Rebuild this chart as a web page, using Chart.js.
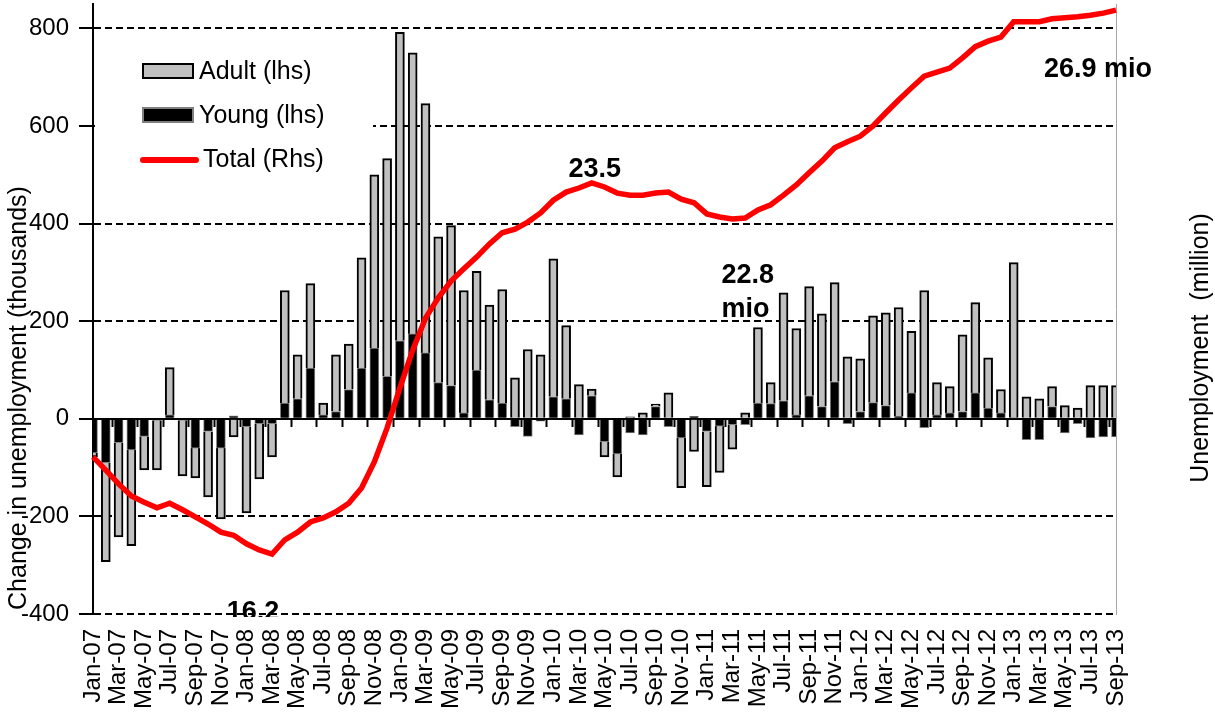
<!DOCTYPE html>
<html>
<head>
<meta charset="utf-8">
<title>Change in unemployment</title>
<script src="https://cdn.jsdelivr.net/npm/chart.js@4.4.1/dist/chart.umd.min.js"></script>
<style>
  html, body { margin: 0; padding: 0; background: #fff; }
  #wrap { width: 1215px; height: 718px; }
</style>
</head>
<body>
<div id="wrap"><canvas id="unempChart" width="1215" height="718"></canvas></div>
<script>
// Categories (monthly)
const months = [
  'Jan-07','Feb-07','Mar-07','Apr-07','May-07','Jun-07','Jul-07','Aug-07','Sep-07','Oct-07','Nov-07','Dec-07',
  'Jan-08','Feb-08','Mar-08','Apr-08','May-08','Jun-08','Jul-08','Aug-08','Sep-08','Oct-08','Nov-08','Dec-08',
  'Jan-09','Feb-09','Mar-09','Apr-09','May-09','Jun-09','Jul-09','Aug-09','Sep-09','Oct-09','Nov-09','Dec-09',
  'Jan-10','Feb-10','Mar-10','Apr-10','May-10','Jun-10','Jul-10','Aug-10','Sep-10','Oct-10','Nov-10','Dec-10',
  'Jan-11','Feb-11','Mar-11','Apr-11','May-11','Jun-11','Jul-11','Aug-11','Sep-11','Oct-11','Nov-11','Dec-11',
  'Jan-12','Feb-12','Mar-12','Apr-12','May-12','Jun-12','Jul-12','Aug-12','Sep-12','Oct-12','Nov-12','Dec-12',
  'Jan-13','Feb-13','Mar-13','Apr-13','May-13','Jun-13','Jul-13','Aug-13','Sep-13'
];

// Change in unemployment, thousands (lhs)
const young = [
  -70, -90, -49, -64, -36, -3, 8, -3, -60, -26, -60, 6,
  -16, -10, -10, 32, 41, 104, 8, 15, 60, 104, 145, 87,
  160, 174, 135, 74, 68, 12, 100, 39, 32, -16, -36, -5,
  45, 41, -33, 47, -47, -72, -29, -33, 25, -16, -39, 5,
  -26, -15, -12, -12, 32, 31, 37, 8, 47, 25, 76, -10,
  15, 33, 27, 5, 53, -18, 8, 12, 15, 53, 22, 12,
  2, -43, -43, 25, -29, -10, -39, -37, -37
];
const adult = [
  -8, -203, -193, -196, -69, -102, 97, -114, -61, -134, -145, -37,
  -177, -113, -68, 231, 90, 173, 24, 116, 93, 226, 355, 446,
  632, 576, 511, 299, 328, 251, 202, 194, 233, 84, 142, 131,
  283, 150, 70, 14, -31, -47, 4, 12, 5, 53, -102, -67,
  -113, -95, -50, 12, 155, 43, 221, 177, 224, 190, 203, 127,
  108, 178, 190, 223, 126, 263, 66, 54, 157, 185, 103, 48,
  318, 45, 41, 41, 27, 22, 68, 68, 68
];

// Total unemployment, million (rhs)
const total = [
  18.09, 17.83, 17.56, 17.32, 17.20, 17.09, 17.18, 17.05, 16.91, 16.77, 16.61, 16.55,
  16.38, 16.26, 16.18, 16.46, 16.61, 16.81, 16.89, 17.01, 17.18, 17.48, 17.99, 18.66,
  19.45, 20.19, 20.82, 21.22, 21.55, 21.79, 22.02, 22.28, 22.50, 22.57, 22.71, 22.89,
  23.14, 23.30, 23.38, 23.48, 23.40, 23.28, 23.24, 23.24, 23.28, 23.30, 23.16, 23.09,
  22.87, 22.81, 22.77, 22.79, 22.95, 23.05, 23.24, 23.44, 23.68, 23.91, 24.17, 24.29,
  24.40, 24.60, 24.86, 25.11, 25.35, 25.58, 25.66, 25.74, 25.94, 26.16, 26.27, 26.35,
  26.65, 26.65, 26.65, 26.71, 26.73, 26.75, 26.78, 26.82, 26.88
];

// Text notes on the line: point index, offset from that point
const notes = [
  { lines: ['16.2'], index: 14, dx: -19, dy: 66, align: 'center', clip: true },
  { lines: ['23.5'], index: 39, dx: 3, dy: -6, align: 'center' },
  { lines: ['22.8', 'mio'], index: 50, dx: -11, dy: 64, align: 'left' },
  { lines: ['26.9 mio'], index: 80, dx: -72, dy: 67, align: 'left' }
];

const FONT = "'Liberation Sans', Arial, sans-serif";
Chart.defaults.font.family = FONT;
Chart.defaults.color = '#000';

// legend, axis titles and notes
const extras = {
  id: 'extras',
  beforeDatasetsDraw(chart) {
    // legend background hides the gridline behind it
    const ctx = chart.ctx;
    ctx.save();
    ctx.fillStyle = '#fff';
    ctx.fillRect(95, 42, 278, 150);
    ctx.restore();
  },
  afterDraw(chart) {
    const ctx = chart.ctx;
    const area = chart.chartArea;
    const xs = chart.scales.x;
    const y1 = chart.scales.y1;
    ctx.save();

    // legend
    ctx.font = '25px ' + FONT;
    ctx.textAlign = 'left';
    ctx.textBaseline = 'middle';
    ctx.fillStyle = '#c0c0c0';
    ctx.fillRect(143, 64, 50, 14);
    ctx.strokeStyle = '#000';
    ctx.lineWidth = 2;
    ctx.strokeRect(143, 64, 50, 14);
    ctx.fillStyle = '#000';
    ctx.fillText(chart.data.datasets[2].label, 199, 72);

    ctx.fillStyle = '#000';
    ctx.fillRect(143, 108, 50, 14);
    ctx.strokeStyle = '#808080';
    ctx.strokeRect(143, 108, 50, 14);
    ctx.fillText(chart.data.datasets[1].label, 199, 116);

    ctx.strokeStyle = '#ff0000';
    ctx.lineWidth = 6;
    ctx.lineCap = 'round';
    ctx.beginPath();
    ctx.moveTo(143, 160);
    ctx.lineTo(196, 160);
    ctx.stroke();
    ctx.fillText(chart.data.datasets[0].label, 203, 160);

    // axis titles
    ctx.font = '25px ' + FONT;
    ctx.textAlign = 'center';
    ctx.save();
    ctx.translate(19, 398);
    ctx.rotate(-Math.PI / 2);
    ctx.fillText('Change in unemployment (thousands)', 0, 0);
    ctx.restore();
    ctx.save();
    ctx.translate(1201, 348);
    ctx.rotate(-Math.PI / 2);
    ctx.fillText('Unemployment  (million)', 0, 0);
    ctx.restore();

    // notes
    ctx.font = 'bold 27px ' + FONT;
    ctx.textBaseline = 'alphabetic';
    notes.forEach(n => {
      const px = xs.getPixelForValue(n.index) + n.dx;
      const py = y1.getPixelForValue(total[n.index]) + n.dy;
      ctx.save();
      if (n.clip) {
        ctx.beginPath();
        ctx.rect(0, 0, chart.width, area.bottom + 3);
        ctx.clip();
      }
      ctx.textAlign = n.align;
      n.lines.forEach((t, k) => ctx.fillText(t, px, py + k * 34));
      ctx.restore();
    });
    ctx.restore();
  }
};

new Chart(document.getElementById('unempChart'), {
  type: 'bar',
  data: {
    labels: months,
    datasets: [
      {
        type: 'line',
        label: 'Total (Rhs)',
        data: total,
        yAxisID: 'y1',
        borderColor: '#ff0000',
        borderWidth: 5.5,
        pointRadius: 0,
        tension: 0,
        fill: false
      },
      {
        label: 'Young (lhs)',
        data: young,
        yAxisID: 'y',
        backgroundColor: '#000',
        borderColor: '#808080',
        borderWidth: 1,
        barThickness: 9,
        clip: 0
      },
      {
        label: 'Adult (lhs)',
        data: adult,
        yAxisID: 'y',
        backgroundColor: '#c0c0c0',
        borderColor: '#000',
        borderWidth: 2,
        barThickness: 9,
        clip: 0
      }
    ]
  },
  options: {
    responsive: false,
    animation: false,
    devicePixelRatio: 1,
    layout: { padding: { top: 4, left: 0, right: 0, bottom: 0 } },
    plugins: {
      legend: { display: false },
      tooltip: { enabled: false }
    },
    scales: {
      x: {
        type: 'category',
        position: 'bottom',
        offset: false,
        stacked: true,
        grid: { display: false, drawTicks: false },
        border: { display: false },
        ticks: {
          autoSkip: false,
          minRotation: 90,
          maxRotation: 90,
          padding: 15,
          font: { size: 24 },
          color: '#000',
          callback: function (value, i) {
            return i % 2 === 0 ? this.getLabelForValue(value) : '';
          }
        },
        afterFit: s => { s.height = 104; s.paddingLeft = 0; s.paddingRight = 0; }
      },
      x0: {
        type: 'category',
        position: { y: 0 },
        offset: false,
        grid: {
          drawOnChartArea: false,
          drawTicks: true,
          tickLength: 7,
          tickWidth: 2,
          tickColor: c => (c.index % 2 === 0 ? '#000' : 'rgba(0,0,0,0)')
        },
        border: { display: true, color: '#000', width: 2 },
        ticks: { display: false }
      },
      y: {
        type: 'linear',
        position: 'left',
        stacked: true,
        min: -400,
        max: 850,
        ticks: {
          stepSize: 200,
          includeBounds: false,
          padding: 10,
          font: { size: 24 },
          color: '#000'
        },
        grid: {
          color: '#000',
          lineWidth: 2,
          tickLength: 14,
          tickWidth: 2,
          tickColor: '#000',
          tickBorderDash: []
        },
        border: { display: true, color: '#000', width: 2, dash: [7, 4] },
        afterFit: s => { s.width = 93; s.paddingTop = 0; s.paddingBottom = 0; }
      },
      y1: {
        type: 'linear',
        position: 'right',
        min: 15,
        max: 27,
        ticks: { display: false },
        grid: { display: false, drawTicks: false },
        border: { display: true, color: '#a6a6a6', width: 1 },
        afterFit: s => { s.width = 99; s.paddingTop = 0; s.paddingBottom = 0; }
      }
    }
  },
  plugins: [extras]
});
</script>
</body>
</html>
